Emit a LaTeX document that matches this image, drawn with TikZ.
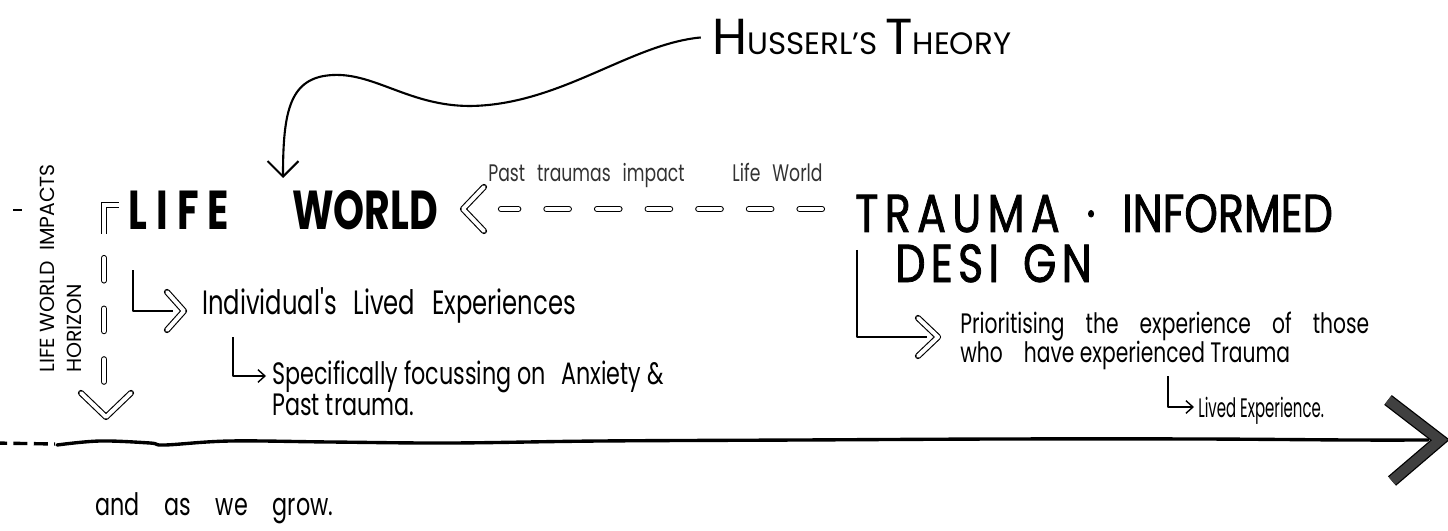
\documentclass[tikz,border=0pt]{standalone}
\usepackage{fontspec}
\setmainfont{Poppins}
\newfontfamily\handfont[FakeStretch=0.72]{Poppins}
\newfontfamily\narrowhand[FakeStretch=0.56]{Poppins}
\newfontfamily\capfont[FakeStretch=0.8, FakeBold=1.5]{Poppins}
\newfontfamily\heavyfont[FakeStretch=0.72]{Poppins}
\usetikzlibrary{arrows.meta}

% one big capital followed by small capitals
\newcommand{\scword}[2]{{\fontsize{36}{40}\selectfont #1}{\fontsize{22}{26}\selectfont #2}}
% tight lines for the two-line notes
\newcommand{\tightlines}{\lineskiplimit=-100pt\lineskip=0pt}

\begin{document}
\begin{tikzpicture}[
    x=0.025cm, y=-0.025cm,
    hand/.style={font=\handfont, inner sep=0pt, anchor=base west},
    title/.style={font=\capfont, inner sep=0pt, anchor=base west},
    link/.style={line width=1.3pt, line join=round},
    thinlink/.style={line width=1pt, line join=round, -{Straight Barb[length=5pt, width=9pt]}},
    hollow/.style={draw=black, line width=0.8pt, double=white, double distance=2.8pt, line cap=round, line join=round},
    hollowdash/.style={hollow, dash pattern=on 16pt off 20pt},
    bigtip/.style={draw=black, line width=0.9pt, double=black!75, double distance=7pt, line join=miter}
]
\useasboundingbox (0,0) rectangle (1448,531);

% Headings
\node[title, font=\rmfamily] (husserl) at (712,55) {\scword{H}{USSERL'S}\hspace{0.55em}\scword{T}{HEORY}};
\node[title, font={\heavyfont\bfseries\fontsize{39}{40}\selectfont}] (lifeworld) at (128,230) {L\,I\,F\,E\hspace{1.15em}WORLD};
\node[title, font={\capfont\fontsize{38}{40}\selectfont}] (tid) at (855,232) {T\hspace{0.12em}R\hspace{0.12em}A\hspace{0.12em}U\hspace{0.12em}M\hspace{0.12em}A\hspace{0.5em}·\hspace{0.5em}INFORMED};
\node[title, font={\capfont\fontsize{38}{40}\selectfont}] (design) at (895,282) {D\hspace{0.1em}E\hspace{0.1em}S\hspace{0.1em}I\hspace{0.45em}G\hspace{0.1em}N};

% Handwritten notes
\node[hand, font={\handfont\fontsize{17}{20}\selectfont}, text=black!80] (pastlbl) at (488,182) {Past\enspace traumas\enspace impact\qquad Life\enspace World};
\node[hand, font={\handfont\fontsize{24}{28}\selectfont}] (indiv) at (202,314) {Individual's\enspace Lived\enspace Experiences};
\node[hand, font={\handfont\fontsize{22}{21.5}\selectfont\tightlines}, align=left] (spec) at (272,415) {Specifically focussing on\enspace Anxiety \&\\Past trauma.};
\node[hand, font={\handfont\fontsize{20}{20.5}\selectfont\tightlines}, align=left] (prior) at (960,362) {Prioritising\hspace{0.75em}the\hspace{0.75em}experience\hspace{0.75em}of\hspace{0.75em}those\\who\hspace{0.75em}have experienced Trauma};
\node[hand, font={\narrowhand\fontsize{19}{22}\selectfont}] (livedexp) at (1198,417) {Lived Experience.};
\node[hand, font={\handfont\fontsize{22}{24}\selectfont}] (grow) at (95,515) {and\hspace{0.8em}as\hspace{0.8em}we\hspace{0.8em}grow.};
\node[hand, font={\rmfamily\fontsize{14.5}{19}\selectfont}, rotate=90, anchor=north west, align=left] (horizon) at (40,373) {LIFE WORLD\enspace IMPACTS\\HORIZON};

% Husserl's theory arrow
\coordinate (lwin) at (283,178);
\draw[line width=1.5pt, -{Straight Barb[length=11pt, width=22pt]}] ([xshift=-8]husserl.west)
    .. controls (630,44) and (560,105) .. (470,106)
    .. controls (410,106) and (375,73) .. (333,75)
    .. controls (290,77) and (283,110) .. (lwin);

% Past traumas -> Life World (hollow dashes)
\coordinate (lwtip) at (463,209);
\draw[hollowdash] ([shift={(-33,-23)}]tid.base west) -- ([xshift=27]lwtip);
\draw[hollow] (484,187) -- (lwtip) -- (484,231);

% Life World horizon (vertical hollow dashes)
\draw[line width=1.5pt] (13,210) -- (22,210);
\draw[hollow, line cap=butt, line join=miter] (104,234) -- (104,205) -- (119,205);
\draw[hollowdash] (104,258) -- (104,392);
\draw[hollow] (81,393) -- (106,417) -- (131,393);

% Life World branches
\coordinate (indtip) at (184,311);
\draw[link] ([shift={(5,40)}]lifeworld.base west) |- ([xshift=-8]indtip);
\draw[hollow] (167,292) -- (indtip) -- (167,330);
\draw[thinlink] ([shift={(31,23)}]indiv.base west) |- ([shift={(-6,-39)}]spec.base west);

% Trauma-informed design branches
\coordinate (pritip) at (938,337);
\draw[link] ([shift={(2,18)}]tid.base west) |- ([xshift=-8]pritip);
\draw[hollow] (918,318) -- (pritip) -- (918,356);
\draw[thinlink] ([shift={(208,14)}]prior.base west) |- ([shift={(-4,-10)}]livedexp.base west);

% Timeline
\draw[line width=2.4pt, dash pattern=on 10pt off 4.5pt] (-7,443) -- (55,444);
\draw[line width=2.4pt, line cap=round] plot[smooth, tension=0.6] coordinates {(57,445) (100,441) (150,443) (165,445) (230,441) (330,442) (450,443) (600,441) (800,440) (1000,439) (1200,439) (1350,440) (1428,440)};
\draw[bigtip] (1388,400) -- (1440,440) -- (1392,481);

\end{tikzpicture}
\end{document}
